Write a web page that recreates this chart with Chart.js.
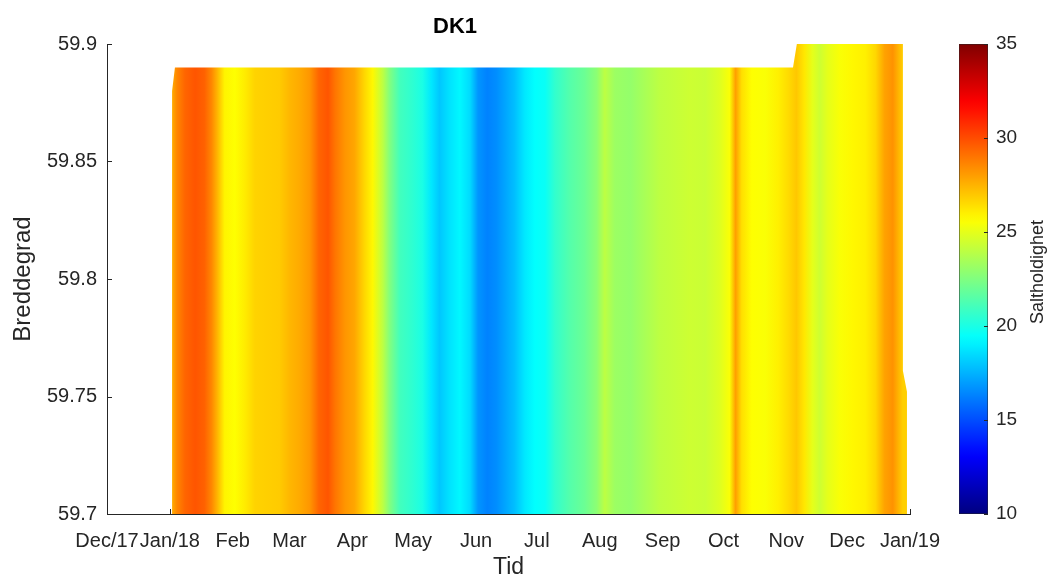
<!DOCTYPE html>
<html>
<head>
<meta charset="utf-8">
<script src="https://cdn.jsdelivr.net/npm/chart.js@4.4.1/dist/chart.umd.min.js"></script>
<style>
    html, body { margin: 0; padding: 0; background: #fff; }
    #wrap { position: relative; width: 1049px; height: 578px; }
    #main { position: absolute; left: 0; top: 0; }
    #cbar { position: absolute; left: 930px; top: 0; }
</style>
</head>
<body>
<div id="wrap">
    <canvas id="main" width="1049" height="578"></canvas>
    <canvas id="cbar" width="119" height="578"></canvas>
</div>
<script>
// x axis is counted in days from 1 Dec 2017
const monthDays = [0, 31, 62, 90, 121, 151, 182, 212, 243, 274, 304, 335, 365, 396];
const monthLabels = ['Dec/17', 'Jan/18', 'Feb', 'Mar', 'Apr', 'May', 'Jun', 'Jul', 'Aug', 'Sep', 'Oct', 'Nov', 'Dec', 'Jan/19'];
const latTicks = [59.7, 59.75, 59.8, 59.85, 59.9];
const salinityTicks = [10, 15, 20, 25, 30, 35];

// salinity read along the time axis
const sampleDays = [32, 34.5, 38.5, 43.5, 48, 51.5, 54.5, 58, 63, 68, 73, 79, 85, 90, 95, 100, 104.5, 109, 112.5, 117.5,
    122, 127, 131, 136, 139.5, 144.5, 150.5, 155.5, 160, 164, 169, 174, 179, 183, 187.5, 192, 196.5, 201, 206, 211,
    216, 221, 228, 235.5, 241.5, 245.5, 250.5, 258, 265, 272.5, 280, 287.5, 295, 302, 307, 310, 313, 318, 324.5, 331,
    336, 340, 344, 348, 351.5, 355.5, 361.5, 367.5, 374, 379, 383.5, 387.5, 392.5];
const salinity = [27.6, 28.6, 29.4, 29.8, 29.5, 28.6, 27.4, 25.9, 25.6, 26.1, 26.7, 26.8, 26.9, 27.4, 27.7, 28.2, 29.4, 29.8, 29.0, 28.2,
    27.8, 26.6, 25.8, 24.0, 22.5, 21.0, 20.5, 20.0, 18.8, 18.0, 18.7, 19.2, 18.5, 16.8, 16.3, 16.6, 17.2, 17.8, 18.8, 19.4,
    19.6, 20.6, 21.4, 22.0, 22.8, 24.0, 23.2, 23.0, 23.5, 24.0, 24.2, 24.4, 24.3, 24.8, 25.5, 28.0, 26.4, 25.6, 25.5, 26.0,
    26.5, 27.0, 26.2, 25.0, 24.4, 25.0, 25.5, 25.8, 26.0, 26.6, 27.9, 28.3, 26.8];

// outline of the covered area (day, latitude)
const edgeDays = [32.1, 32.1, 33.5, 338.3, 340.2, 392.5, 392.5, 394.5, 394.5];
const edgeLat = [59.70, 59.88, 59.89, 59.89, 59.90, 59.90, 59.761, 59.752, 59.70];

const axisColor = '#262626';
const fontFamily = '"Liberation Sans", Arial, Helvetica, sans-serif';

// matlab jet colormap, 10..35
function jet(v) {
    const t = (v - 10) / 25;
    const c = k => Math.round(255 * Math.max(0, Math.min(1, 1.5 - Math.abs(4 * t - k))));
    return `rgb(${c(3)},${c(2)},${c(1)})`;
}

function salinityFill(context) {
    const { ctx, chartArea, scales } = context.chart;
    if (!chartArea) return 'rgba(0,0,0,0)';
    const x0 = scales.x.getPixelForValue(sampleDays[0]);
    const x1 = scales.x.getPixelForValue(sampleDays[sampleDays.length - 1]);
    const g = ctx.createLinearGradient(x0, 0, x1, 0);
    sampleDays.forEach((d, i) => {
        g.addColorStop((scales.x.getPixelForValue(d) - x0) / (x1 - x0), jet(salinity[i]));
    });
    return g;
}

// matlab style ticks pointing into the axes
const innerTicks = {
    id: 'innerTicks',
    beforeDatasetsDraw(chart) {
        const { ctx, chartArea: a, scales: { x, y } } = chart;
        ctx.save();
        ctx.strokeStyle = axisColor;
        ctx.lineWidth = 1;
        ctx.beginPath();
        monthDays.forEach(d => {
            const px = Math.round(x.getPixelForValue(d)) + 0.5;
            ctx.moveTo(px, a.bottom);
            ctx.lineTo(px, a.bottom - 5);
        });
        latTicks.forEach(v => {
            const py = Math.round(y.getPixelForValue(v)) + 0.5;
            ctx.moveTo(a.left, py);
            ctx.lineTo(a.left + 5, py);
        });
        ctx.stroke();
        ctx.restore();
    }
};

new Chart(document.getElementById('main'), {
    type: 'line',
    data: {
        datasets: [{
            data: edgeDays.map((d, i) => ({ x: d, y: edgeLat[i] })),
            borderWidth: 0,
            borderColor: 'rgba(0,0,0,0)',
            pointRadius: 0,
            tension: 0,
            fill: 'start',
            backgroundColor: salinityFill
        }]
    },
    options: {
        responsive: false,
        animation: false,
        events: [],
        layout: { padding: { left: 0, right: 139, top: 0, bottom: 0 } },
        plugins: {
            legend: { display: false },
            tooltip: { enabled: false },
            title: {
                display: true,
                text: 'DK1',
                color: '#000',
                font: { family: fontFamily, size: 22, weight: 'bold' },
                padding: { top: 14, bottom: 3.6 }
            }
        },
        scales: {
            x: {
                type: 'linear',
                min: 0,
                max: 396,
                afterBuildTicks: s => { s.ticks = monthDays.map(v => ({ value: v })); },
                afterFit: s => { s.height = 64; },
                grid: { display: false, drawTicks: false },
                border: { display: true, color: axisColor, width: 1 },
                ticks: {
                    autoSkip: false,
                    maxRotation: 0,
                    padding: 15,
                    color: axisColor,
                    font: { family: fontFamily, size: 20 },
                    callback: v => monthLabels[monthDays.indexOf(v)]
                },
                title: {
                    display: true,
                    text: 'Tid',
                    color: axisColor,
                    font: { family: fontFamily, size: 23, lineHeight: 0.9 },
                    padding: { top: 0, bottom: 0 }
                }
            },
            y: {
                type: 'linear',
                min: 59.7,
                max: 59.9,
                afterBuildTicks: s => { s.ticks = latTicks.map(v => ({ value: v })); },
                afterFit: s => { s.width = 107; },
                grid: { display: false, drawTicks: false },
                border: { display: true, color: axisColor, width: 1 },
                ticks: {
                    padding: 10,
                    color: axisColor,
                    font: { family: fontFamily, size: 20 },
                    callback: v => String(v)
                },
                title: {
                    display: true,
                    text: 'Breddegrad',
                    color: axisColor,
                    font: { family: fontFamily, size: 24 },
                    padding: { top: 9, bottom: 0 }
                }
            }
        }
    },
    plugins: [innerTicks]
});

// colorbar
function colorbarFill(context) {
    const { ctx, chartArea, scales } = context.chart;
    if (!chartArea) return 'rgba(0,0,0,0)';
    const y0 = scales.y.getPixelForValue(10);
    const y1 = scales.y.getPixelForValue(35);
    const g = ctx.createLinearGradient(0, y0, 0, y1);
    for (let v = 10; v <= 35; v += 0.5) {
        g.addColorStop((v - 10) / 25, jet(v));
    }
    return g;
}

const colorbarDecor = {
    id: 'colorbarDecor',
    afterDatasetsDraw(chart) {
        const { ctx, chartArea: a, scales: { y } } = chart;
        ctx.save();
        ctx.strokeStyle = 'rgba(38,38,38,0.5)';
        ctx.lineWidth = 1;
        ctx.strokeRect(a.left + 0.5, a.top + 0.5, a.right - a.left - 1, a.bottom - a.top - 1);
        ctx.strokeStyle = axisColor;
        ctx.beginPath();
        salinityTicks.forEach(v => {
            const py = Math.round(y.getPixelForValue(v)) + 0.5;
            ctx.moveTo(a.right, py);
            ctx.lineTo(a.right - 4, py);
        });
        ctx.stroke();
        ctx.fillStyle = axisColor;
        ctx.font = '18px ' + fontFamily;
        ctx.textAlign = 'center';
        ctx.textBaseline = 'middle';
        ctx.translate(108, 272);
        ctx.rotate(-Math.PI / 2);
        ctx.fillText('Saltholdighet', 0, 0);
        ctx.restore();
    }
};

new Chart(document.getElementById('cbar'), {
    type: 'bar',
    data: {
        labels: [''],
        datasets: [{
            data: [[10, 35]],
            backgroundColor: colorbarFill,
            borderWidth: 0,
            barPercentage: 1,
            categoryPercentage: 1
        }]
    },
    options: {
        responsive: false,
        animation: false,
        events: [],
        layout: { padding: { left: 29, right: 0, top: 44, bottom: 64 } },
        plugins: { legend: { display: false }, tooltip: { enabled: false } },
        scales: {
            x: { display: false },
            y: {
                position: 'right',
                min: 10,
                max: 35,
                afterBuildTicks: s => { s.ticks = salinityTicks.map(v => ({ value: v })); },
                afterFit: s => { s.width = 61; },
                grid: { display: false, drawTicks: false },
                border: { display: false },
                ticks: {
                    padding: 8,
                    color: axisColor,
                    font: { family: fontFamily, size: 19 }
                }
            }
        }
    },
    plugins: [colorbarDecor]
});
</script>
</body>
</html>
